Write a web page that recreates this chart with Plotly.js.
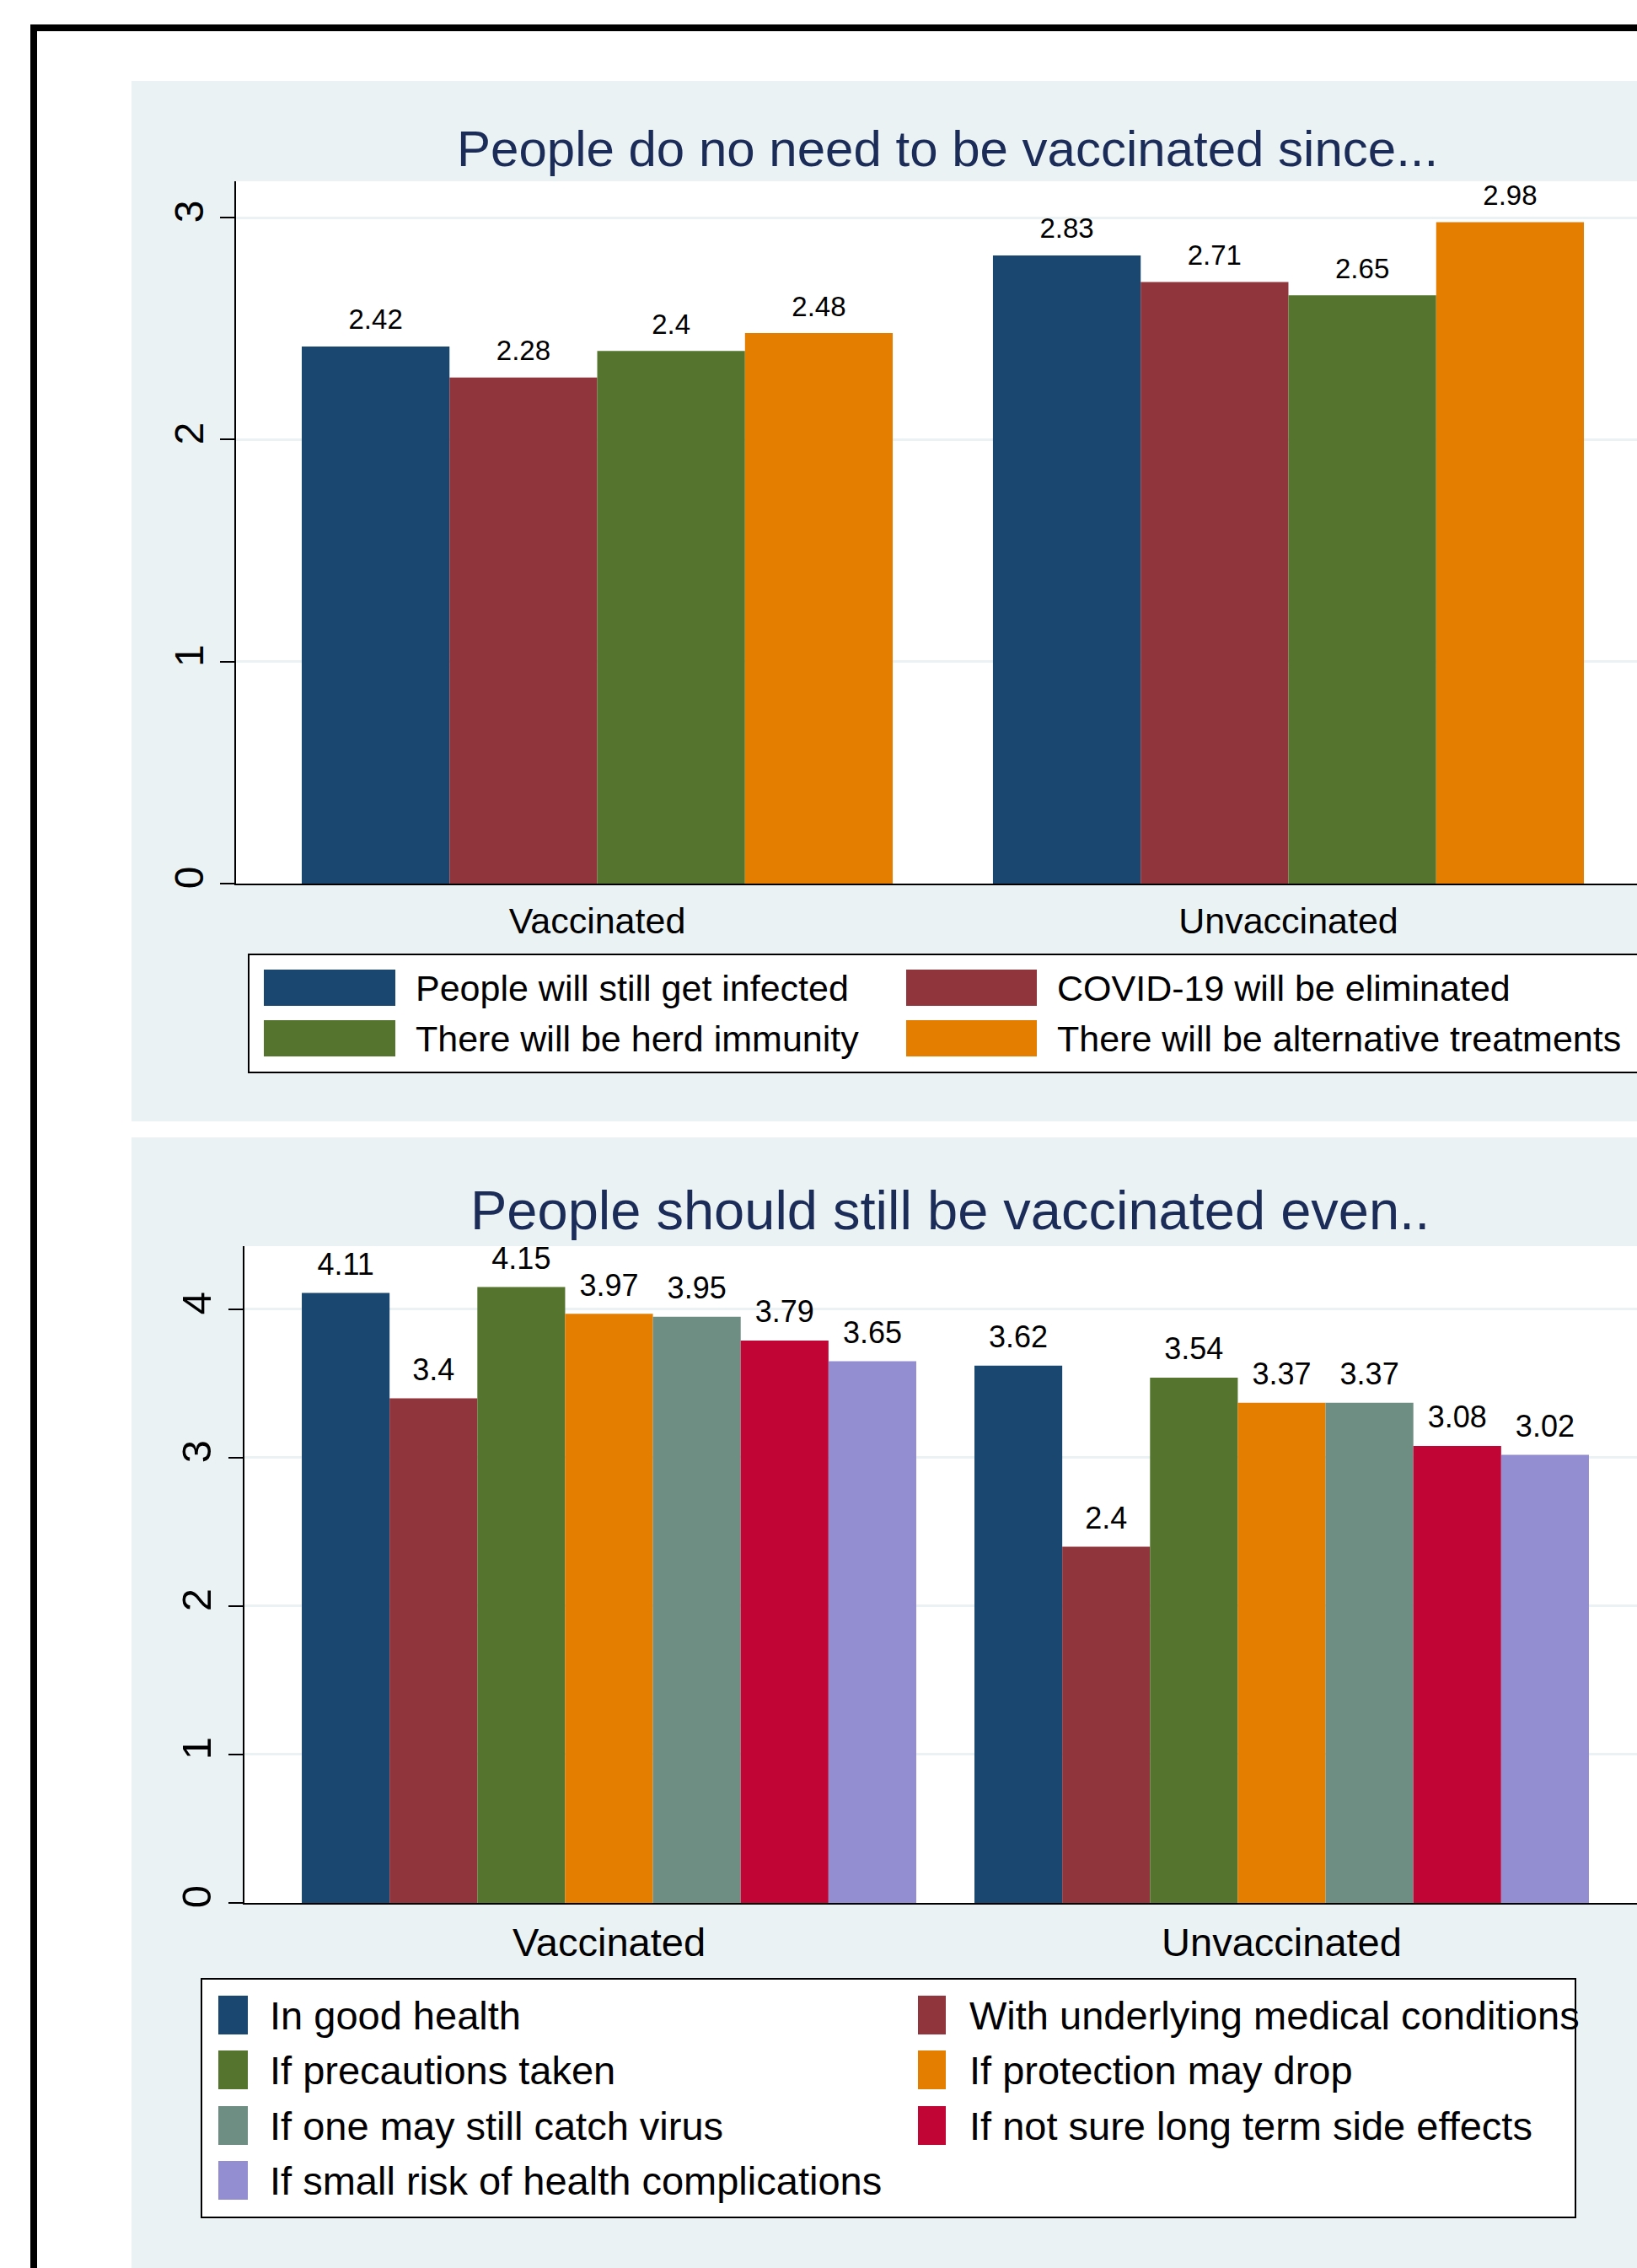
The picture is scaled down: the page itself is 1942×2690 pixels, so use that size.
<!DOCTYPE html>
<html>
<head>
<meta charset="utf-8">
<script src="https://cdn.plot.ly/plotly-3.0.1.min.js"></script>
<style>
html,body{margin:0;padding:0;background:#ffffff;overflow:hidden;width:1942px;height:2690px;}
#figTop{position:absolute;left:0;top:0;}
#figBottom{position:absolute;left:0;top:1340px;}
</style>
</head>
<body>
<div id="figTop"></div>
<div id="figBottom"></div>
<script>
// ---------------- data ----------------
const groups = ['Vaccinated', 'Unvaccinated'];

const topTitle = 'People do no need to be vaccinated since...';
const topSeries = [
  'People will still get infected',
  'COVID-19 will be eliminated',
  'There will be herd immunity',
  'There will be alternative treatments'
];
const topVaccinated = [2.42, 2.28, 2.4, 2.48];
const topUnvaccinated = [2.83, 2.71, 2.65, 2.98];
const topTicks = [0, 1, 2, 3];

const bottomTitle = 'People should still be vaccinated even..';
const bottomSeries = [
  'In good health',
  'With underlying medical conditions',
  'If precautions taken',
  'If protection may drop',
  'If one may still catch virus',
  'If not sure long term side effects',
  'If small risk of health complications'
];
const bottomVaccinated = [4.11, 3.4, 4.15, 3.97, 3.95, 3.79, 3.65];
const bottomUnvaccinated = [3.62, 2.4, 3.54, 3.37, 3.37, 3.08, 3.02];
const bottomTicks = [0, 1, 2, 3, 4];

const seriesColors = ['#1a476f', '#90353b', '#55752f', '#e37e00', '#6e8e84', '#c10534', '#938dd2'];

// ---------------- style ----------------
const FONT = 'Liberation Sans, Arial, Helvetica, sans-serif';
const PANEL = '#eaf2f3';
const TITLE_COLOR = '#1c2c58';
const W = 2000;

function build(el, o) {
  const H = o.H;
  const X = p => p / W;
  const Y = p => 1 - p / H;
  const data = [];
  o.series.forEach((name, i) => {
    const vals = [o.v1[i], o.v2[i]];
    data.push({
      type: 'bar', x: groups, y: vals, name: name, offsetgroup: 'g' + i,
      marker: {color: seriesColors[i], line: {width: 0}},
      showlegend: false, hoverinfo: 'x+y+name'
    });
    // transparent spacer carrying the value label a little above the bar
    data.push({
      type: 'bar', x: groups, base: vals, y: vals.map(() => o.labelGap), offsetgroup: 'g' + i,
      marker: {color: 'rgba(0,0,0,0)', line: {width: 0}},
      text: vals.map(v => String(v)), texttemplate: '%{text}', textposition: 'outside',
      textfont: {family: FONT, size: o.valSize, color: '#000000'},
      constraintext: 'none', cliponaxis: false, showlegend: false, hoverinfo: 'skip'
    });
  });

  const rect = (x0, x1, y0, y1, fill, line) => ({
    type: 'rect', xref: 'paper', yref: 'paper', layer: 'above',
    x0: X(x0), x1: X(x1), y0: Y(y1), y1: Y(y0),
    fillcolor: fill, line: line || {width: 0}
  });

  const shapes = [];
  o.whites.forEach(r => shapes.push(rect(r[0], r[1], r[2], r[3], '#ffffff')));
  o.blacks.forEach(r => shapes.push(rect(r[0], r[1], r[2], r[3], '#000000')));
  const lb = o.legendBox;
  shapes.push(rect(lb[0], lb[1], lb[2], lb[3], '#ffffff', {color: '#000000', width: 2}));

  const annotations = [{
    text: o.title, xref: 'paper', yref: 'paper', x: X(o.titleX), y: Y(o.titleY),
    xanchor: 'center', yanchor: 'middle', showarrow: false,
    font: {family: FONT, size: o.titleSize, color: TITLE_COLOR}
  }];

  o.series.forEach((name, i) => {
    const col = i % 2, row = Math.floor(i / 2);
    const sx = o.swX[col], sy = o.swY[row];
    shapes.push(rect(sx[0], sx[1], sy[0], sy[1], seriesColors[i]));
    annotations.push({
      text: name, xref: 'paper', yref: 'paper', x: X(o.txX[col]), y: Y((sy[0] + sy[1]) / 2 + o.txDy),
      xanchor: 'left', yanchor: 'middle', showarrow: false,
      font: {family: FONT, size: o.legSize, color: '#000000'}
    });
  });

  const layout = {
    width: W, height: H,
    margin: {l: 0, r: 0, t: 0, b: 0, pad: 0},
    paper_bgcolor: PANEL, plot_bgcolor: '#ffffff',
    barmode: 'group', bargap: o.bargap, bargroupgap: 0,
    showlegend: false,
    font: {family: FONT, color: '#000000'},
    xaxis: {
      domain: [X(o.plot[0]), X(o.plot[1])], type: 'category', range: o.xr,
      showline: true, linecolor: '#000000', linewidth: 2, ticks: '',
      tickfont: {family: FONT, size: o.catSize, color: '#000000'},
      ticklabelstandoff: o.catStandoff,
      showgrid: false, zeroline: false, fixedrange: true
    },
    yaxis: {
      domain: [Y(o.plot[3]), Y(o.plot[2])], range: [0, o.ymax],
      tickmode: 'array', tickvals: o.ticks, ticktext: o.ticks.map(String), tickangle: -90,
      ticks: 'outside', ticklen: 17, tickwidth: 2, tickcolor: '#000000',
      ticklabelstandoff: o.tickStandoff,
      showline: true, linecolor: '#000000', linewidth: 2,
      showgrid: true, gridcolor: PANEL, gridwidth: 3, zeroline: false,
      tickfont: {family: FONT, size: o.tickSize, color: '#000000'}, fixedrange: true
    },
    shapes: shapes, annotations: annotations
  };
  Plotly.newPlot(el, data, layout, {staticPlot: true, displayModeBar: false});
}

build('figTop', {
  H: 1340, series: topSeries, v1: topVaccinated, v2: topUnvaccinated, ticks: topTicks,
  title: topTitle, titleX: 1124, titleY: 176, titleSize: 60,
  plot: [280, 1957, 215, 1048], xr: [-0.5226, 1.5226], ymax: 3.164, bargap: 0.145,
  labelGap: 0.04, valSize: 33, catSize: 43, catStandoff: 5, tickSize: 48, tickStandoff: 1,
  whites: [[0, 156, 0, 1340], [0, W, 0, 96], [0, W, 1330, 1340]],
  blacks: [[36, 44, 29, 1340], [36, W, 29, 37]],
  legendBox: [295, 1995, 1132, 1272],
  swX: [[313, 469], [1075, 1230]], swY: [[1150, 1193], [1210, 1253]],
  txX: [491, 1252], txDy: 0, legSize: 43
});

build('figBottom', {
  H: 1350, series: bottomSeries, v1: bottomVaccinated, v2: bottomUnvaccinated, ticks: bottomTicks,
  title: bottomTitle, titleX: 1127, titleY: 95, titleSize: 65,
  plot: [290, 1953, 138, 917], xr: [-0.542, 1.542], ymax: 4.426, bargap: 0.0865,
  labelGap: 0.06, valSize: 36, catSize: 47, catStandoff: 5, tickSize: 49, tickStandoff: 1,
  whites: [[0, 156, 0, 1350], [0, W, 0, 9]],
  blacks: [[36, 44, 0, 1350]],
  legendBox: [239, 1869, 1007, 1290],
  swX: [[259, 294], [1089, 1122]], swY: [[1027, 1073], [1092, 1138], [1158, 1204], [1223, 1269]],
  txX: [318, 1148], txDy: 0, legSize: 47
});
</script>
</body>
</html>
